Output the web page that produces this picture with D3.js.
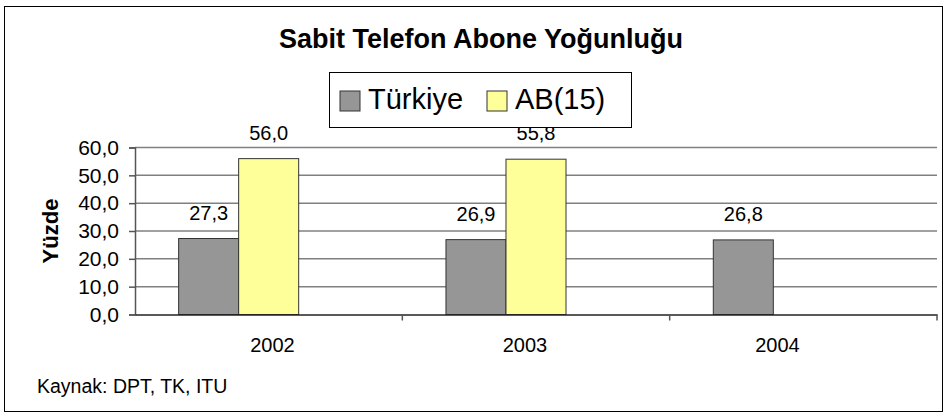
<!DOCTYPE html>
<html>
<head>
<meta charset="utf-8">
<script src="https://cdn.jsdelivr.net/npm/d3@7"></script>
<style>
  body { margin: 0; background: #fff; }
  text { font-family: "Liberation Sans", Arial, sans-serif; fill: #000; }
</style>
</head>
<body>
<div id="chart"></div>
<script>
const years = ["2002", "2003", "2004"];
const seriesNames = ["Türkiye", "AB(15)"];
const turkiye = [27.3, 26.9, 26.8];
const ab15 = [56.0, 55.8, null];
const yTicks = [0, 10, 20, 30, 40, 50, 60];
const colors = ["#969696", "#ffff99"];

const width = 947, height = 420;
const plot = { left: 135, right: 937, top: 147.5, bottom: 314.5 };

const svg = d3.select("#chart")
    .append("svg")
    .attr("width", width)
    .attr("height", height);

// outer frame
svg.append("rect")
    .attr("x", 4.5).attr("y", 6.5)
    .attr("width", 938).attr("height", 405)
    .attr("fill", "#fff")
    .attr("stroke", "#000")
    .attr("stroke-width", 1);

const fmt = v => d3.format(".1f")(v).replace(".", ",");

const x0 = d3.scaleBand()
    .domain(years)
    .range([plot.left, plot.right]);

// the original chart keeps room for a third (empty) series in each group
const x1 = d3.scaleBand()
    .domain(seriesNames.concat(["_"]))
    .range([0, x0.bandwidth()])
    .paddingOuter(0.727);

// year labels sit a bit left of the category centres in the original
const xLabel = d3.scalePoint()
    .domain(years)
    .range([272, 777]);

const y = d3.scaleLinear()
    .domain([0, 60])
    .range([plot.bottom, plot.top]);

// gridlines
svg.append("g")
    .selectAll("line")
    .data(yTicks.filter(d => d > 0))
    .enter()
    .append("line")
    .attr("x1", plot.left)
    .attr("x2", plot.right)
    .attr("y1", d => y(d))
    .attr("y2", d => y(d))
    .attr("stroke", "#808080")
    .attr("stroke-width", 1.5);

// bars
const rows = years.map((yr, i) => ({ year: yr, values: [turkiye[i], ab15[i]] }));

const groups = svg.append("g")
    .selectAll("g")
    .data(rows)
    .enter()
    .append("g")
    .attr("transform", d => `translate(${x0(d.year)},0)`);

const barData = d => d.values
    .map((v, j) => ({ key: seriesNames[j], value: v, color: colors[j] }))
    .filter(b => b.value != null);

groups.selectAll("rect")
    .data(barData)
    .enter()
    .append("rect")
    .attr("x", d => x1(d.key))
    .attr("y", d => y(d.value))
    .attr("width", x1.bandwidth())
    .attr("height", d => y(0) - y(d.value))
    .attr("fill", d => d.color)
    .attr("stroke", "#333")
    .attr("stroke-width", 1);

groups.selectAll("text")
    .data(barData)
    .enter()
    .append("text")
    .attr("x", d => x1(d.key) + x1.bandwidth() / 2)
    .attr("y", d => y(d.value) - 19)
    .attr("text-anchor", "middle")
    .style("font-size", "20px")
    .text(d => fmt(d.value));

// y axis
const yAxis = svg.append("g")
    .attr("transform", `translate(${plot.left},0)`)
    .call(d3.axisLeft(y).tickValues(yTicks).tickSize(6).tickPadding(10).tickFormat(fmt));
yAxis.select(".domain").attr("stroke", "#555").attr("stroke-width", 1.5);
yAxis.selectAll(".tick line").attr("stroke", "#555").attr("stroke-width", 1.5);
yAxis.selectAll("text")
    .style("font-size", "21px")
    .style("font-family", "'Liberation Sans', Arial, sans-serif")
    .attr("fill", "#000");

// x axis line with category separators
const xAxis = svg.append("g")
    .attr("transform", `translate(0,${plot.bottom})`)
    .call(d3.axisBottom(x0).tickSize(0).tickFormat(""));
xAxis.select(".domain").attr("stroke", "#222").attr("stroke-width", 1.5);

svg.append("g")
    .selectAll("line")
    .data(years.slice(1).concat(["end"]))
    .enter()
    .append("line")
    .attr("x1", d => d === "end" ? plot.right : x0(d))
    .attr("x2", d => d === "end" ? plot.right : x0(d))
    .attr("y1", plot.bottom)
    .attr("y2", plot.bottom + 6)
    .attr("stroke", "#555")
    .attr("stroke-width", 1.5);

// year labels
svg.append("g")
    .attr("transform", `translate(0,${plot.bottom})`)
    .call(d3.axisBottom(xLabel).tickSize(0).tickPadding(23))
    .call(g => g.select(".domain").remove())
    .selectAll("text")
    .style("font-size", "20px")
    .style("font-family", "'Liberation Sans', Arial, sans-serif")
    .attr("fill", "#000");

// y axis title
svg.append("text")
    .attr("transform", "translate(58,231) rotate(-90)")
    .attr("text-anchor", "middle")
    .style("font-size", "22px")
    .style("font-weight", "bold")
    .text("Yüzde");

// chart title
svg.append("text")
    .attr("x", 481)
    .attr("y", 48)
    .attr("text-anchor", "middle")
    .style("font-size", "27px")
    .style("font-weight", "bold")
    .text("Sabit Telefon Abone Yoğunluğu");

// legend
const legend = svg.append("g");
legend.append("rect")
    .attr("x", 329.5).attr("y", 72.5)
    .attr("width", 302).attr("height", 55)
    .attr("fill", "#fff")
    .attr("stroke", "#000");

const legendX = [340, 487];
const items = legend.selectAll("g")
    .data(seriesNames)
    .enter()
    .append("g")
    .attr("transform", (d, i) => `translate(${legendX[i]},91)`);
items.append("rect")
    .attr("width", 20).attr("height", 20)
    .attr("fill", (d, i) => colors[i])
    .attr("stroke", "#333");
items.append("text")
    .attr("x", 28)
    .attr("y", 18)
    .style("font-size", "29px")
    .text(d => d);

// source
svg.append("text")
    .attr("x", 37)
    .attr("y", 393)
    .style("font-size", "19.5px")
    .text("Kaynak: DPT, TK, ITU");
</script>
</body>
</html>
